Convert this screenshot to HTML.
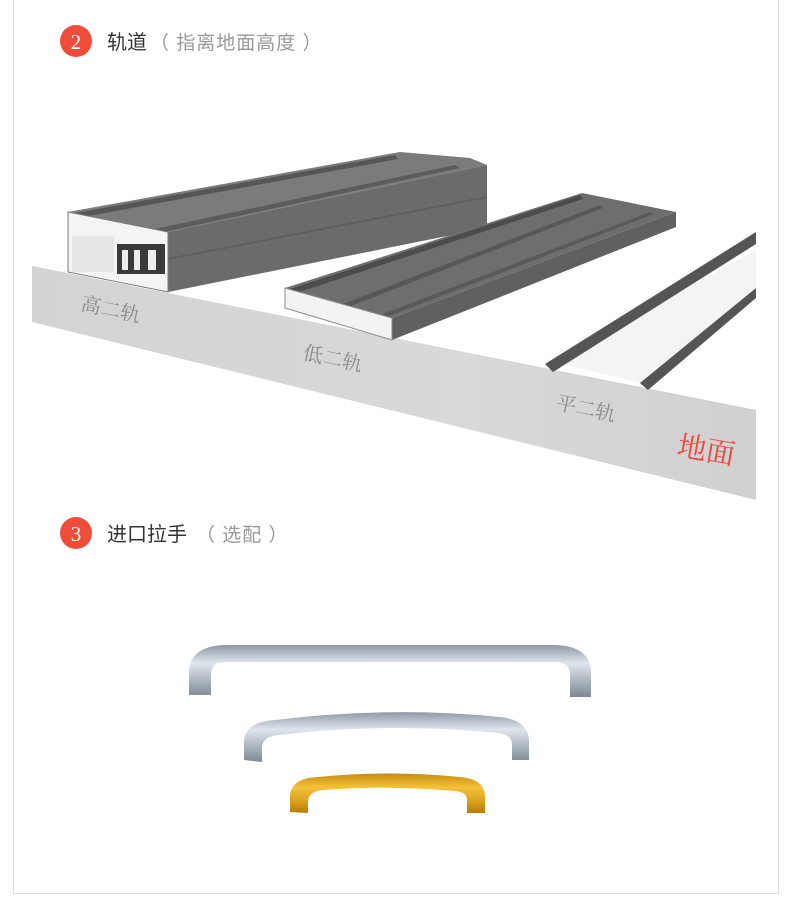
<!DOCTYPE html>
<html><head><meta charset="utf-8"><style>
html,body{margin:0;padding:0;background:#fff;width:790px;height:922px;overflow:hidden}
svg{display:block}
</style></head><body>
<svg width="790" height="922" viewBox="0 0 790 922" xmlns="http://www.w3.org/2000/svg" font-family="Liberation Sans, Noto Sans CJK SC, sans-serif">
<defs>
<linearGradient id="floor" x1="0" y1="0" x2="1" y2="0"><stop offset="0" stop-color="#d3d3d3"/><stop offset="0.6" stop-color="#d9d9d9"/><stop offset="1" stop-color="#d0d0d0"/></linearGradient>
<linearGradient id="silver" x1="0" y1="0" x2="0" y2="1"><stop offset="0" stop-color="#8f9aa6"/><stop offset="0.35" stop-color="#dfe5ec"/><stop offset="0.7" stop-color="#a9b3bd"/><stop offset="1" stop-color="#7d8893"/></linearGradient>
<linearGradient id="gold" x1="0" y1="0" x2="0" y2="1"><stop offset="0" stop-color="#c98a10"/><stop offset="0.35" stop-color="#f4c23a"/><stop offset="0.7" stop-color="#dba21c"/><stop offset="1" stop-color="#b57a0a"/></linearGradient>
</defs>
<path d="M13.5 0 V893.5 H778.5 V0" fill="none" stroke="#dcdcdc" stroke-width="1"/>
<circle cx="76" cy="41" r="16" fill="#ef4c3a"/>
<text x="76" y="49" font-family="Liberation Serif, serif" font-size="21" fill="#fff" text-anchor="middle">2</text>
<text x="107" y="49" font-size="20" fill="#333">轨道</text>
<text x="150" y="49" font-size="19" fill="#999" letter-spacing="1">（ 指离地面高度 ）</text>

<polygon points="32,266 756,410 756,500 32,322" fill="url(#floor)"/>

<polygon points="68,212 400,152 470,158 487,165 168,232" fill="#7b7b7b"/>
<polygon points="70,214 395,155 398,159 72,219" fill="#565656"/>
<polygon points="150,230 455,165 460,168 155,234" fill="#5c5c5c"/>
<polygon points="168,232 487,165 487,228 168,292" fill="#6b6b6b"/>
<polygon points="168,258 487,196 487,198 168,260" fill="#5e5e5e"/>
<polygon points="68,212 168,232 168,292 68,272" fill="#f4f4f4" stroke="#7a7a7a" stroke-width="1"/>
<rect x="72" y="236" width="42" height="36" fill="#e6e6e6"/>
<rect x="117" y="244" width="48" height="30" fill="#3a3a3a"/>
<rect x="122" y="250" width="6" height="20" fill="#eee"/><rect x="134" y="250" width="6" height="20" fill="#eee"/><rect x="148" y="250" width="8" height="20" fill="#eee"/>

<polygon points="285,288 582,193 676,212 392,318" fill="#6e6e6e"/>
<polygon points="287,290 580,195 583,199 290,295" fill="#4c4c4c"/>
<polygon points="340,305 600,205 603,208 343,309" fill="#585858"/>
<polygon points="380,315 650,212 654,214 384,318" fill="#5a5a5a"/>
<polygon points="392,318 676,212 676,227 392,340" fill="#606060"/>
<polygon points="285,288 392,318 392,340 285,308" fill="#f3f3f3" stroke="#8a8a8a" stroke-width="1"/>

<polygon points="553,362 756,250 756,292 650,385" fill="#f4f4f4"/>
<polygon points="545,364 756,232 756,244 553,372" fill="#555"/>
<polygon points="640,383 756,288 756,298 648,390" fill="#555"/>

<g font-family="Liberation Serif, Noto Serif CJK SC, serif" fill="#8a8a8a" font-size="20">
<text x="80" y="310" transform="rotate(12 80 310)">高二轨</text>
<text x="302" y="359" transform="rotate(12 302 359)">低二轨</text>
<text x="555" y="409" transform="rotate(12 555 409)">平二轨</text>
</g>
<text x="676" y="455" transform="rotate(10 676 455)" font-family="Liberation Serif, Noto Serif CJK SC, serif" font-size="29" fill="#f0473a">地面</text>

<circle cx="76" cy="533" r="16" fill="#ef4c3a"/>
<text x="76" y="541" font-family="Liberation Serif, serif" font-size="21" fill="#fff" text-anchor="middle">3</text>
<text x="107" y="541" font-size="20" fill="#333">进口拉手</text>
<text x="196" y="541" font-size="19" fill="#999" letter-spacing="1">（ 选配 ）</text>

<path d="M189,695 L189,672 Q190,646 225,645 L555,645 Q590,646 591,672 L591,697 L570,697 L570,675 Q570,662 555,662 L225,662 Q211,662 211,675 L211,695 Z" fill="url(#silver)"/>
<path d="M244,760 L244,740 Q246,722 275,720 Q390,706 500,717 Q528,720 529,740 L529,760 L512,760 L512,745 Q512,734 498,733 Q390,722 278,735 Q262,737 262,748 L262,762 Z" fill="url(#silver)"/>
<path d="M290,812 L290,795 Q292,778 318,777 Q390,770 460,777 Q485,779 485,797 L485,813 L467,813 L467,800 Q467,792 455,791 Q390,785 322,790 Q308,792 308,802 L308,813 Z" fill="url(#gold)"/>
</svg>
</body></html>
